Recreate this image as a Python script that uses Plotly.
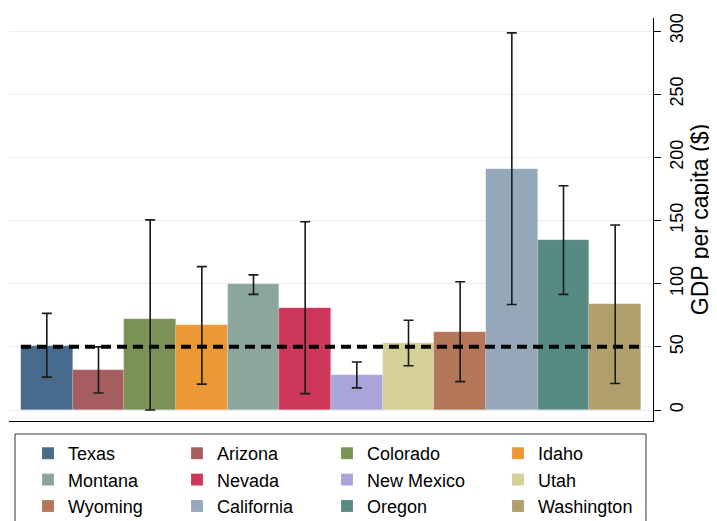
import plotly.graph_objects as go

# ---- data ----
states = ["Texas", "Arizona", "Colorado", "Idaho", "Montana", "Nevada",
          "New Mexico", "Utah", "Wyoming", "California", "Oregon", "Washington"]
gdp_per_capita = [51, 32, 72, 67, 99.5, 81, 28, 53, 62, 191, 134.5, 84]
error_plus = [25.5, 18, 78.5, 46.5, 7.5, 68, 10, 18, 39.5, 107.5, 43, 62.5]
error_minus = [25, 18.5, 72, 46.5, 8, 68, 10.5, 18, 39.5, 107.5, 43, 63]
state_colors = ["#476a8c", "#a55d60", "#7a9157", "#eb9935", "#8ba69a", "#cd385a",
                "#a9a4da", "#d5cf98", "#b37658", "#95a8b9", "#578a82", "#b09f6c"]
reference_value = 50
y_tick_values = [0, 50, 100, 150, 200, 250, 300]
y_tick_labels = ["0", "50", "100", "150", "200", "250", "300"]
y_title = "GDP per capita ($)"

FONT = "Liberation Sans, Arial, Helvetica, sans-serif"

# the page body adds an 8px margin, so the figure is sized to fit the window
OFF = 8
W, H = 717 - OFF, 521 - OFF
# plot area in window pixels: x 9..653, y 18..421
ML, MR, MT, MB = 9 - OFF, 717 - 653, 18 - OFF, 521 - 421
PW, PH = W - ML - MR, H - MT - MB


def px_x(px):
    return (px - OFF - ML) / PW


def px_y(py):
    return (H - MB - (py - OFF)) / PH


legend_names = ["legend", "legend2", "legend3", "legend4"]

fig = go.Figure()
for i, s in enumerate(states):
    fig.add_trace(go.Bar(
        x=[s], y=[gdp_per_capita[i]], name=s, width=1,
        marker=dict(color=state_colors[i],
                    line=dict(width=0.6, color="rgba(255,255,255,0.25)")),
        error_y=dict(type="data", symmetric=False,
                     array=[error_plus[i]], arrayminus=[error_minus[i]],
                     color="#1a1a1a", thickness=1.6, width=5),
        legend=legend_names[i % 4],
    ))

fig.add_shape(type="line", xref="x", yref="y", x0=-0.5, x1=len(states) - 0.5,
              y0=reference_value, y1=reference_value,
              line=dict(color="black", width=4, dash="10px,6px"), layer="above")

# legend frame
fig.add_shape(type="rect", xref="paper", yref="paper",
              x0=px_x(15), x1=px_x(646), y0=px_y(434), y1=px_y(545),
              line=dict(color="#333333", width=1), fillcolor="rgba(0,0,0,0)",
              layer="above")

col_text_x = [68, 217, 367, 538]
legend_layouts = {}
for k, name in enumerate(legend_names):
    legend_layouts[name] = dict(
        x=px_x(col_text_x[k] - 40), y=px_y(435), xanchor="left", yanchor="top",
        orientation="v", bgcolor="rgba(0,0,0,0)", borderwidth=0,
        font=dict(family=FONT, size=18, color="black"),
        itemwidth=30, tracegroupgap=0,
    )

fig.update_layout(
    width=W, height=H,
    margin=dict(l=ML, r=MR, t=MT, b=MB, autoexpand=False),
    paper_bgcolor="white", plot_bgcolor="white",
    barmode="overlay", bargap=0,
    font=dict(family=FONT, color="black"),
    showlegend=True,
    **legend_layouts,
)

fig.update_xaxes(
    type="category", categoryorder="array", categoryarray=states,
    range=[-0.732, len(states) - 1 + 0.732], automargin=False,
    showticklabels=False, ticks="", showgrid=False, zeroline=False,
    showline=True, linecolor="black", linewidth=1,
)
fig.update_yaxes(
    side="right", range=[-8.7, 310.3], automargin=False,
    tickvals=y_tick_values, ticktext=y_tick_labels,
    tickangle=-90, ticks="outside", ticklen=7, tickwidth=1, tickcolor="black",
    tickfont=dict(family=FONT, size=18, color="black"),
    showgrid=True, gridcolor="#e8eef1", gridwidth=1, zeroline=False,
    showline=True, linecolor="black", linewidth=1,
    title=dict(text=y_title, font=dict(family=FONT, size=23, color="black"), standoff=1),
)

fig.write_html("out.html")
